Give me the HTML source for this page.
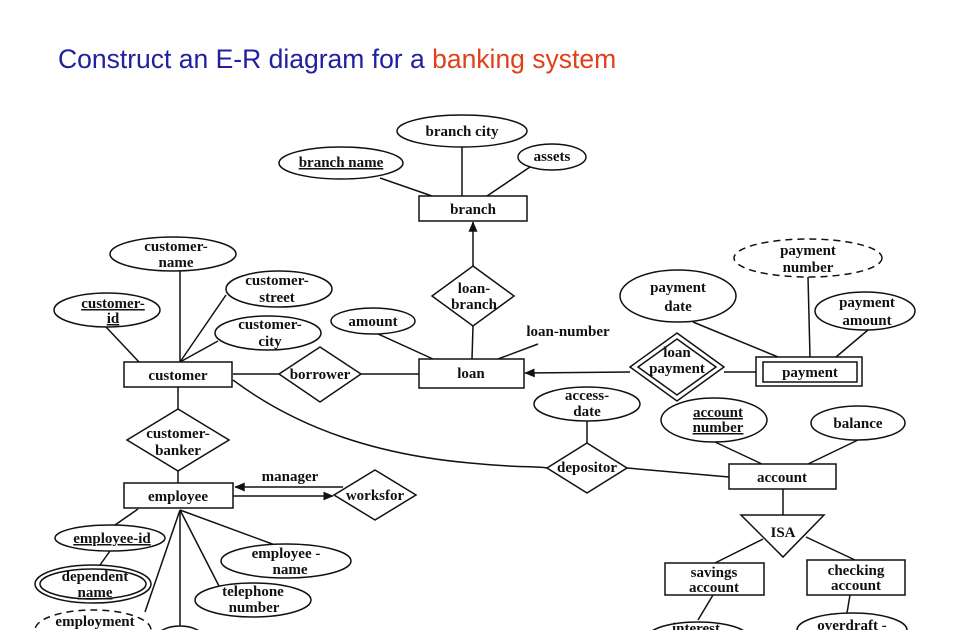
<!DOCTYPE html>
<html><head><meta charset="utf-8"><style>
html,body{margin:0;padding:0;background:#fff;}
svg{display:block;}
text{font-family:"Liberation Serif",serif;font-weight:bold;font-size:15px;fill:#111;text-anchor:middle;}
.t{font-family:"Liberation Sans",sans-serif;font-weight:normal;font-size:26.5px;text-anchor:start;}
</style></head><body>
<svg width="960" height="630" viewBox="0 0 960 630" xmlns="http://www.w3.org/2000/svg">
<defs><marker id="ar" markerWidth="7" markerHeight="6" refX="6.5" refY="3" orient="auto"><path d="M0,0 L7,3 L0,6 z" fill="#111"/></marker></defs>
<text class="t" x="58" y="68"><tspan fill="#2020a0">Construct an E-R diagram for a </tspan><tspan fill="#e0401a">banking system</tspan></text>
<g stroke="#111" stroke-width="1.5" fill="none">
<line x1="462" y1="147" x2="462" y2="196"/>
<line x1="380" y1="178" x2="432" y2="196"/>
<line x1="530" y1="167" x2="487" y2="196"/>
<line x1="473" y1="266" x2="473" y2="222" marker-end="url(#ar)"/>
<line x1="473" y1="326" x2="472" y2="359"/>
<line x1="378" y1="334" x2="433" y2="359"/>
<line x1="498" y1="359" x2="538" y2="344"/>
<line x1="180" y1="271" x2="180" y2="362"/>
<line x1="106" y1="327" x2="139" y2="362"/>
<line x1="180" y1="362" x2="226" y2="295"/>
<line x1="180" y1="362" x2="218" y2="341"/>
<line x1="233" y1="374" x2="279" y2="374"/>
<line x1="361" y1="374" x2="419" y2="374"/>
<line x1="178" y1="387" x2="178" y2="409"/>
<line x1="178" y1="471" x2="178" y2="483"/>
<path d="M233,380 C300,430 380,455 470,463 C520,468 535,466 547,468"/>
<line x1="627" y1="468" x2="729" y2="477"/>
<line x1="587" y1="421" x2="587" y2="443"/>
<line x1="715" y1="442" x2="762" y2="464"/>
<line x1="858" y1="440" x2="808" y2="464"/>
<line x1="783" y1="489" x2="783" y2="515"/>
<line x1="763" y1="539" x2="715" y2="563"/>
<line x1="806" y1="537" x2="855" y2="560"/>
<line x1="713" y1="595" x2="698" y2="620"/>
<line x1="850" y1="595" x2="847" y2="613"/>
<line x1="630" y1="372" x2="525" y2="373" marker-end="url(#ar)"/>
<line x1="724" y1="372" x2="756" y2="372"/>
<line x1="693" y1="322" x2="778" y2="357"/>
<line x1="808" y1="277" x2="810" y2="357"/>
<line x1="868" y1="330" x2="836" y2="357"/>
<line x1="343" y1="487" x2="235" y2="487" marker-end="url(#ar)"/>
<line x1="233" y1="496" x2="333" y2="496" marker-end="url(#ar)"/>
<line x1="138" y1="509" x2="115" y2="525"/>
<line x1="110" y1="551" x2="100" y2="565"/>
<line x1="180" y1="510" x2="145" y2="612"/>
<line x1="180" y1="510" x2="180" y2="630"/>
<line x1="180" y1="510" x2="220" y2="588"/>
<line x1="180" y1="510" x2="275" y2="545"/>
<rect x="419" y="196" width="108" height="25" fill="#fff"/>
<rect x="124" y="362" width="108" height="25" fill="#fff"/>
<rect x="419" y="359" width="105" height="29" fill="#fff"/>
<rect x="756" y="357" width="106" height="29" fill="#fff"/>
<rect x="763" y="362" width="94" height="20"/>
<rect x="124" y="483" width="109" height="25" fill="#fff"/>
<rect x="729" y="464" width="107" height="25" fill="#fff"/>
<rect x="665" y="563" width="99" height="32" fill="#fff"/>
<rect x="807" y="560" width="98" height="35" fill="#fff"/>
<ellipse cx="462" cy="131" rx="65" ry="16" fill="#fff"/>
<ellipse cx="341" cy="163" rx="62" ry="16" fill="#fff"/>
<ellipse cx="552" cy="157" rx="34" ry="13" fill="#fff"/>
<ellipse cx="173" cy="254" rx="63" ry="17" fill="#fff"/>
<ellipse cx="107" cy="310" rx="53" ry="17" fill="#fff"/>
<ellipse cx="279" cy="289" rx="53" ry="18" fill="#fff"/>
<ellipse cx="268" cy="333" rx="53" ry="17" fill="#fff"/>
<ellipse cx="373" cy="321" rx="42" ry="13" fill="#fff"/>
<ellipse cx="678" cy="296" rx="58" ry="26" fill="#fff"/>
<ellipse cx="808" cy="258" rx="74" ry="19" fill="#fff" stroke-dasharray="7,5"/>
<ellipse cx="865" cy="311" rx="50" ry="19" fill="#fff"/>
<ellipse cx="587" cy="404" rx="53" ry="17" fill="#fff"/>
<ellipse cx="714" cy="420" rx="53" ry="22" fill="#fff"/>
<ellipse cx="858" cy="423" rx="47" ry="17" fill="#fff"/>
<ellipse cx="110" cy="538" rx="55" ry="13" fill="#fff"/>
<ellipse cx="93" cy="584" rx="58" ry="19" fill="#fff"/>
<ellipse cx="93" cy="584" rx="53" ry="15"/>
<ellipse cx="286" cy="561" rx="65" ry="17" fill="#fff"/>
<ellipse cx="253" cy="600" rx="58" ry="17" fill="#fff"/>
<ellipse cx="93" cy="630" rx="58" ry="20" fill="#fff" stroke-dasharray="7,5"/>
<ellipse cx="180" cy="640" rx="25" ry="14" fill="#fff"/>
<ellipse cx="698" cy="637" rx="50" ry="15" fill="#fff"/>
<ellipse cx="852" cy="630" rx="55" ry="17" fill="#fff"/>
<polygon points="473,266 514,296 473,326 432,296" fill="#fff"/>
<polygon points="320,347 361,374 320,402 279,374" fill="#fff"/>
<polygon points="178,409 229,440 178,471 127,440" fill="#fff"/>
<polygon points="375,470 416,495 375,520 334,495" fill="#fff"/>
<polygon points="677,333 724,367 677,401 630,367" fill="#fff"/>
<polygon points="677,339 716,367 677,395 638,367"/>
<polygon points="587,443 627,468 587,493 547,468" fill="#fff"/>
<polygon points="741,515 824,515 783,557" fill="#fff"/>
</g>
<text x="473" y="214">branch</text>
<text x="178" y="380">customer</text>
<text x="471" y="378">loan</text>
<text x="810" y="377">payment</text>
<text x="178" y="501">employee</text>
<text x="782" y="482">account</text>
<text x="714" y="577">savings</text><text x="714" y="592">account</text>
<text x="856" y="575">checking</text><text x="856" y="590">account</text>
<text x="462" y="136">branch city</text>
<text x="341" y="167" text-decoration="underline">branch name</text>
<text x="552" y="161">assets</text>
<text x="176" y="251">customer-</text><text x="176" y="267">name</text>
<text x="113" y="308" text-decoration="underline">customer-</text><text x="113" y="323" text-decoration="underline">id</text>
<text x="277" y="285">customer-</text><text x="277" y="302">street</text>
<text x="270" y="329">customer-</text><text x="270" y="346">city</text>
<text x="373" y="326">amount</text>
<text x="568" y="336">loan-number</text>
<text x="474" y="293">loan-</text><text x="474" y="309">branch</text>
<text x="320" y="379">borrower</text>
<text x="178" y="438">customer-</text><text x="178" y="455">banker</text>
<text x="375" y="500">worksfor</text>
<text x="290" y="481">manager</text>
<text x="677" y="357">loan</text><text x="677" y="373">payment</text>
<text x="678" y="292">payment</text><text x="678" y="311">date</text>
<text x="808" y="255">payment</text><text x="808" y="272">number</text>
<text x="867" y="307">payment</text><text x="867" y="325">amount</text>
<text x="587" y="400">access-</text><text x="587" y="416">date</text>
<text x="718" y="417" text-decoration="underline">account</text><text x="718" y="432" text-decoration="underline">number</text>
<text x="858" y="428">balance</text>
<text x="587" y="472">depositor</text>
<text x="783" y="537">ISA</text>
<text x="112" y="543" text-decoration="underline">employee-id</text>
<text x="95" y="581">dependent</text><text x="95" y="597" text-decoration="underline">name</text>
<text x="286" y="558">employee -</text><text x="290" y="574">name</text>
<text x="253" y="596">telephone</text><text x="254" y="612">number</text>
<text x="95" y="626">employment</text>
<text x="696" y="633">interest</text>
<text x="852" y="630">overdraft -</text>
</svg>
</body></html>
